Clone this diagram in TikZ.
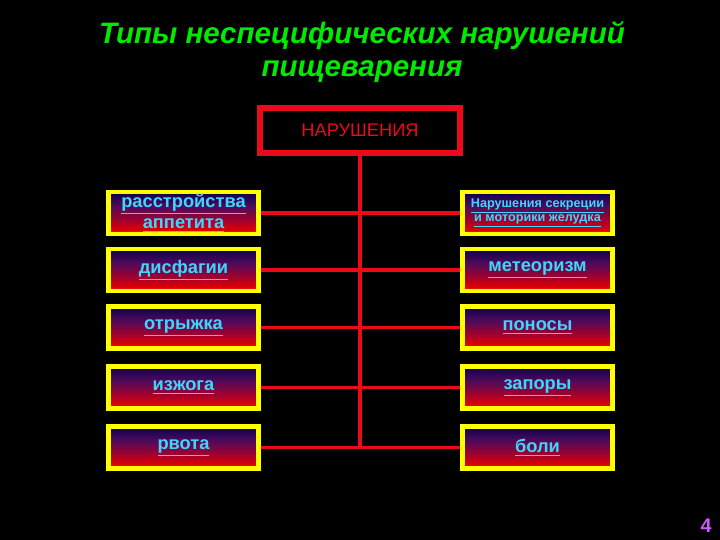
\documentclass[tikz,border=0pt]{standalone}
\usepackage{fontspec}
\setmainfont{Liberation Sans}
\definecolor{titlegreen}{RGB}{0,235,0}
\definecolor{labelcyan}{RGB}{60,215,255}
\definecolor{boxyellow}{RGB}{255,255,0}
\definecolor{linkred}{RGB}{235,10,25}
\definecolor{pagepink}{RGB}{205,90,255}
\definecolor{boxnavy}{RGB}{10,0,80}
\definecolor{boxplum}{RGB}{80,10,90}
\definecolor{boxcrimson}{RGB}{170,0,40}
\pgfdeclareverticalshading{boxfill}{100bp}{color(0bp)=(orange);
  color(25bp)=(orange); color(29bp)=(red!90!black); color(40bp)=(boxcrimson);
  color(58bp)=(boxplum); color(75bp)=(boxnavy);
  color(100bp)=(boxnavy)}
\begin{document}
\begin{tikzpicture}[
  issue/.style={draw=boxyellow, line width=3.5pt, shade, shading=boxfill,
    minimum width=3.75cm, minimum height=1.05cm, inner sep=1pt,
    align=center, text=labelcyan, font=\bfseries\fontsize{13}{15}\selectfont},
  link/.style={draw=linkred, line width=2.2pt}]
\fill[black] (0,0) rectangle (18,13.5);
\node[font=\bfseries\itshape\fontsize{21}{24}\selectfont, text=titlegreen, align=center] (title) at (9.05,12.2)
  {Типы неспецифических нарушений\\пищеварения};
\node[draw=linkred, line width=4pt, minimum width=5.01cm, minimum height=1.135cm,
  text=linkred, font=\fontsize{13}{14}\selectfont] (top) at (9,10.24) {НАРУШЕНИЯ};
% left column
\node[issue] (l1) at (4.5875,8.175) {\underline{расстройства}\\\underline{аппетита}};
\node[issue] (l2) at (4.5875,6.75) {\underline{дисфагии}};
\node[issue] (l3) at (4.5875,5.3125) {\underline{отрыжка}};
\node[issue] (l4) at (4.5875,3.8125) {\underline{изжога}};
\node[issue] (l5) at (4.5875,2.3125) {\underline{рвота}};
% right column
\node[issue, font=\bfseries\fontsize{9}{10}\selectfont] (r1) at (13.4375,8.175)
  {\underline{Нарушения секреции}\\\underline{и моторики желудка}};
\node[issue] (r2) at (13.4375,6.75) {\underline{метеоризм}};
\node[issue] (r3) at (13.4375,5.3125) {\underline{поносы}};
\node[issue] (r4) at (13.4375,3.8125) {\underline{запоры}};
\node[issue] (r5) at (13.4375,2.3125) {\underline{боли}};
\coordinate (trunk) at (9,2.3125);
\draw[link] (top.south) -- (trunk);
\foreach \i in {1,...,5}
  \draw[link] (l\i.east) -- (r\i.west);
\node[text=pagepink, font=\bfseries\fontsize{14}{15}\selectfont] (page) at (17.65,0.35) {4};
\end{tikzpicture}
\end{document}
